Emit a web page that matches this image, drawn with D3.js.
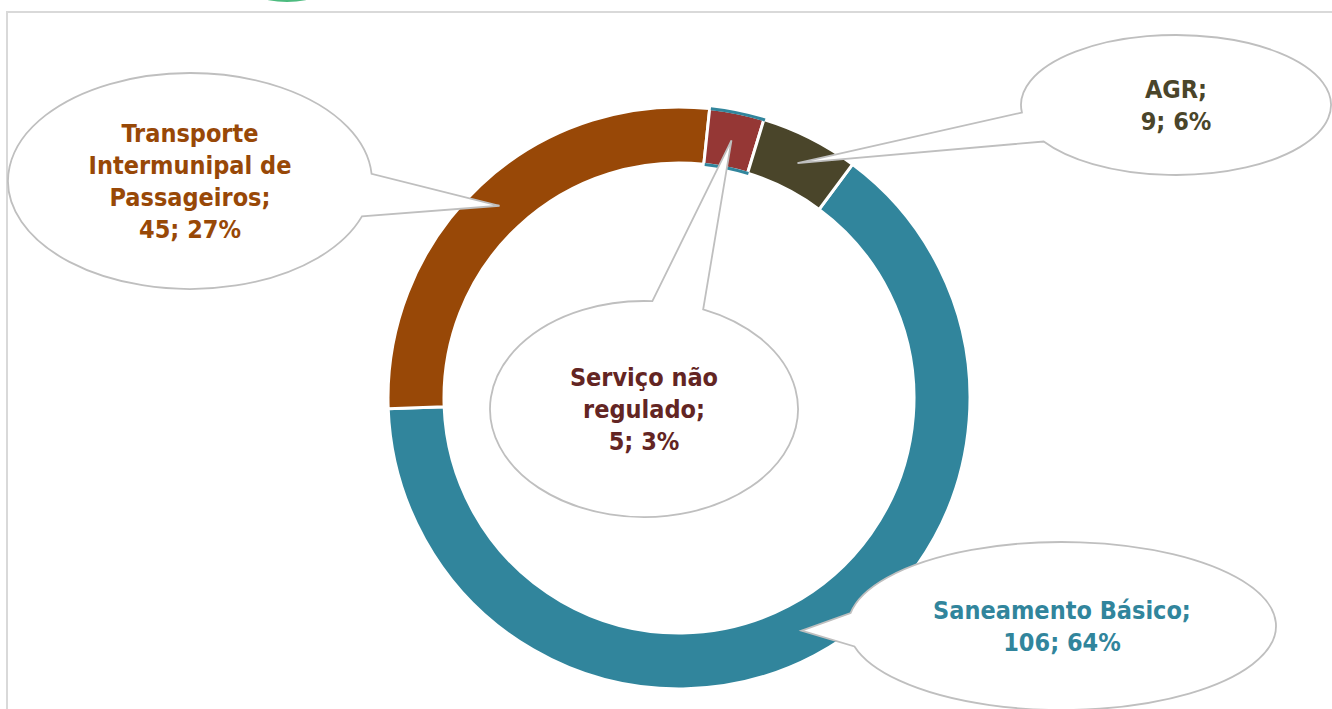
<!DOCTYPE html>
<meta charset="utf-8">
<style>
  body { margin: 0; background: #fff; }
  svg text { font-family: "DejaVu Sans Condensed", "DejaVu Sans", sans-serif; font-weight: bold; font-stretch: condensed; }
</style>
<body>
<div id="chart"></div>
<script src="https://d3js.org/d3.v7.min.js"></script>
<script>
  // data
  const categories = ["Saneamento Básico", "Transporte Intermunipal de Passageiros", "Serviço não regulado", "AGR"];
  const values = [106, 45, 5, 9];
  const percents = [64, 27, 3, 6];
  const colors = ["#31859c", "#984807", "#953735", "#4a452a"];
  const textColors = ["#31859c", "#984807", "#632523", "#4a452a"];
  const labelLines = [
    ["Saneamento Básico;", "106; 64%"],
    ["Transporte", "Intermunipal de", "Passageiros;", "45; 27%"],
    ["Serviço não", "regulado;", "5; 3%"],
    ["AGR;", "9; 6%"]
  ];

  const width = 1332, height = 709;
  const cx = 679, cy = 398;
  const outerR = 291, innerR = 235;
  const startDeg = 36.6;

  // callout ellipses (layout only)
  const callouts = [
    {cx: 1062, cy: 626, rx: 214, ry: 84, spread: 0.2},
    {cx: 190, cy: 181, rx: 182, ry: 108, spread: 0.2},
    {cx: 644, cy: 409, rx: 154, ry: 108, spread: 0.17},
    {cx: 1176, cy: 105, rx: 155, ry: 70, spread: 0.22}
  ];

  const svg = d3.select("#chart").append("svg")
    .attr("width", width)
    .attr("height", height);

  // bits of the surrounding slide
  svg.append("ellipse")
    .attr("cx", 287).attr("cy", -22)
    .attr("rx", 48).attr("ry", 24)
    .attr("fill", "#4dbb7f");
  svg.append("path")
    .attr("d", "M7,709 V12 H1332")
    .attr("fill", "none")
    .attr("stroke", "#d9d9d9")
    .attr("stroke-width", 2);

  const pie = d3.pie()
    .sort(null)
    .startAngle(startDeg * Math.PI / 180)
    .endAngle(startDeg * Math.PI / 180 + 2 * Math.PI);
  const arcs = pie(values);

  const arc = d3.arc().innerRadius(innerR).outerRadius(outerR);
  const g = svg.append("g").attr("transform", `translate(${cx},${cy})`);

  g.selectAll("path.slice")
    .data(arcs)
    .enter().append("path")
    .attr("class", "slice")
    .attr("d", arc)
    .attr("fill", (d, i) => colors[i])
    .attr("stroke", "#fff")
    .attr("stroke-width", 3);

  // thin teal fringe seen on the small slice's outer and inner edges
  const small = arcs[2];
  const fr = {startAngle: small.startAngle + 0.004, endAngle: small.endAngle + 0.004};
  g.append("path")
    .attr("d", d3.arc().innerRadius(outerR - 1.5).outerRadius(outerR + 1.5)(fr))
    .attr("fill", colors[0]);
  g.append("path")
    .attr("d", d3.arc().innerRadius(innerR - 1.5).outerRadius(innerR + 1.5)(fr))
    .attr("fill", colors[0]);

  // callouts
  function calloutPath(c, tip) {
    const th = Math.atan2((tip[1] - c.cy) / c.ry, (tip[0] - c.cx) / c.rx);
    const t1 = th + c.spread, t2 = th - c.spread;
    const p1 = [c.cx + c.rx * Math.cos(t1), c.cy + c.ry * Math.sin(t1)];
    const p2 = [c.cx + c.rx * Math.cos(t2), c.cy + c.ry * Math.sin(t2)];
    return `M${p1[0]},${p1[1]} A${c.rx},${c.ry} 0 1 1 ${p2[0]},${p2[1]} L${tip[0]},${tip[1]} Z`;
  }

  const midArc = d3.arc().innerRadius((innerR + outerR) / 2).outerRadius((innerR + outerR) / 2);

  arcs.forEach((d, i) => {
    const c = callouts[i];
    const m = midArc.centroid(d);
    const tip = [cx + m[0], cy + m[1]];
    svg.append("path")
      .attr("d", calloutPath(c, tip))
      .attr("fill", "#fff")
      .attr("stroke", "#bfbfbf")
      .attr("stroke-width", 1.8);

    const lines = labelLines[i];
    const lh = 32;
    const t = svg.append("text")
      .attr("text-anchor", "middle")
      .attr("fill", textColors[i])
      .attr("font-size", 25);
    lines.forEach((ln, k) => {
      t.append("tspan")
        .attr("x", c.cx)
        .attr("y", c.cy + (k - (lines.length - 1) / 2) * lh + 9)
        .text(ln);
    });
  });
</script>
</body>
